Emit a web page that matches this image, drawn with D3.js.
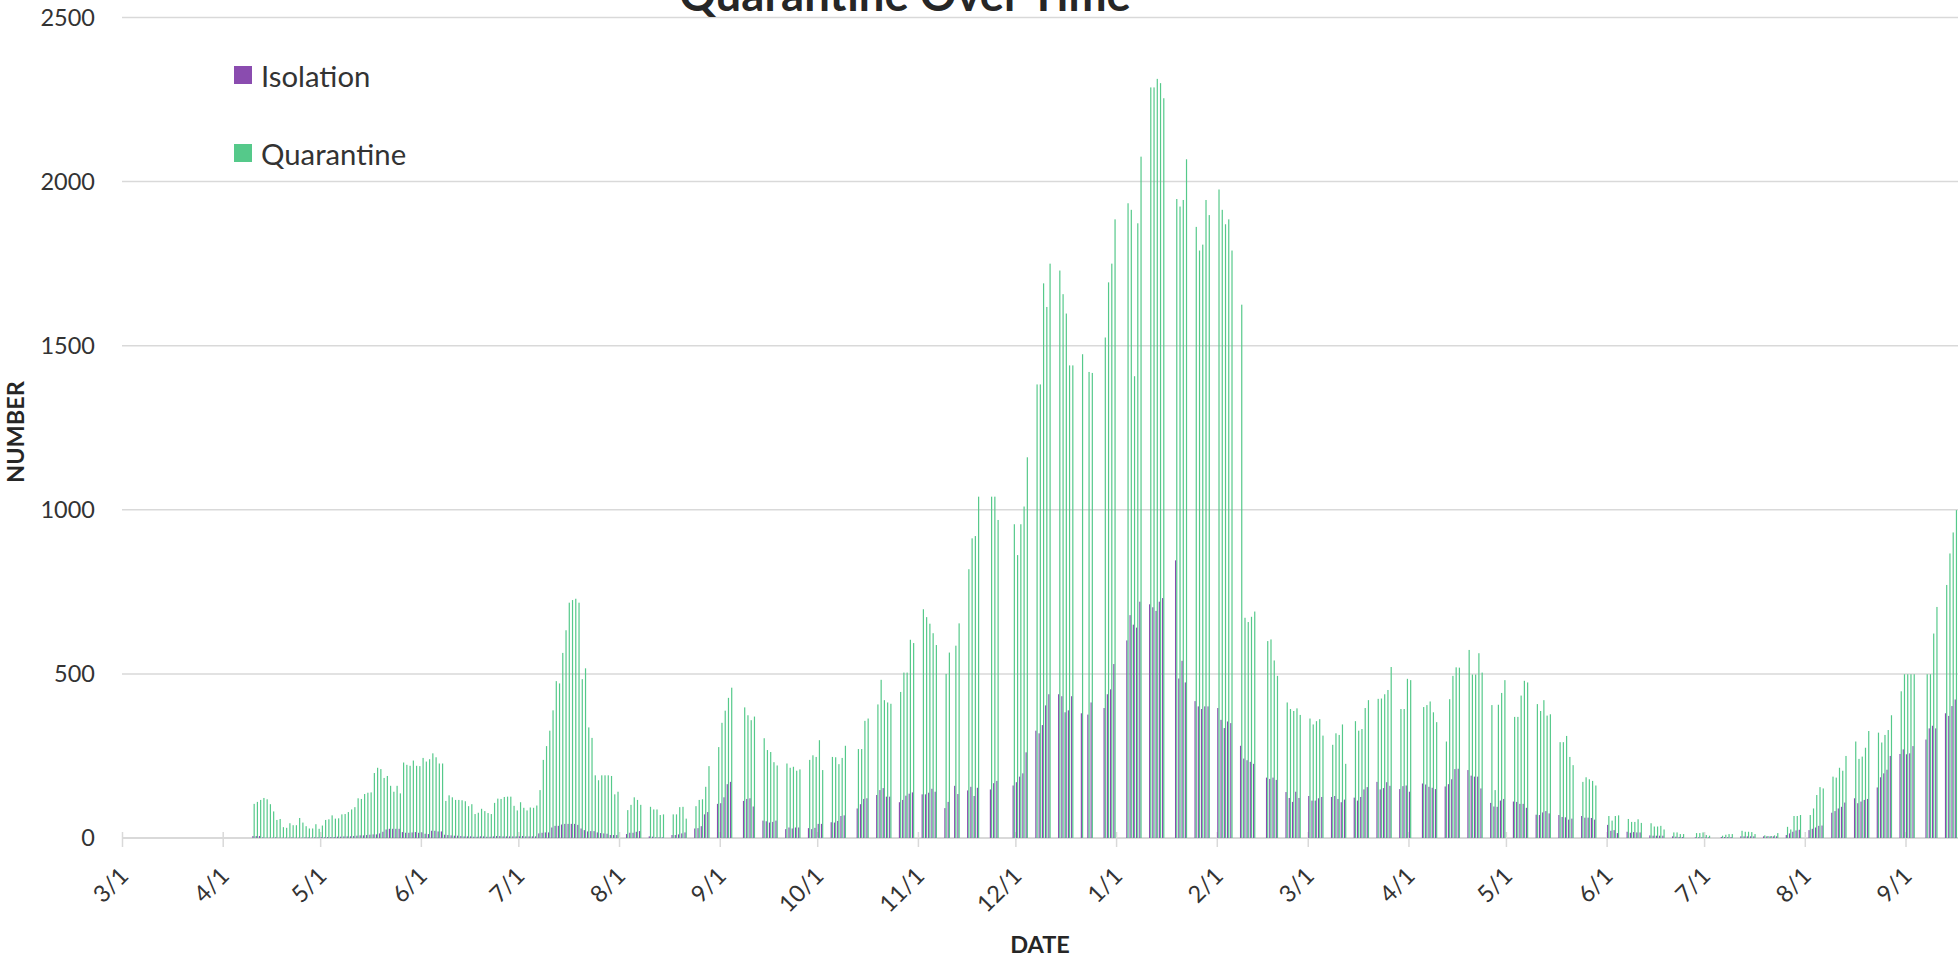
<!DOCTYPE html>
<html>
<head>
<meta charset="utf-8">
<script src="https://cdn.jsdelivr.net/npm/d3@7"></script>
<style>
  html, body { margin: 0; padding: 0; background: #fff; }
  svg { display: block; font-family: Lato, "Open Sans", sans-serif; }
</style>
</head>
<body>
<svg id="chart" width="1958" height="959"></svg>
<script>
/* daily reports, 10 Apr - 31 Jul 2020 (weekends included) */
const dailyStart = "2020-04-10";
const dailyIsolation = [
  6,6,6,2,1,1,1,2,1,1, 1,1,2,1,1,1,2,2,1,2, 2,3,2,3,3,3,4,4,5,5,
  5,6,7,8,8,9,10,11,11,14, 19,26,28,28,28,28,18,16,16,17, 18,16,17,13,12,22,22,20,20,10,
  9,8,7,7,6,5,5,5,4,4, 5,5,4,4,5,6,6,5,5,5, 5,5,5,6,5,5,5,5,14,16,
  17,17,32,37,37,41,43,43,43,43, 40,29,24,20,21,21,17,15,14,13, 9,9,9
];
const dailyQuarantine = [
  104,110,116,122,118,103,81,55,58,33, 31,45,39,39,61,47,36,29,29,42, 28,38,55,57,69,59,60,72,73,79,
  87,94,121,119,134,138,139,198,214,210, 183,189,159,141,159,136,230,223,220,236, 220,219,244,233,240,258,246,227,227,113,
  130,124,116,116,115,112,97,103,73,77, 89,82,76,73,107,120,119,125,126,126, 98,84,109,92,84,93,92,99,146,238,
  280,327,389,478,471,564,633,717,725,729, 717,484,517,337,305,191,176,191,191,191, 189,133,141
];

/* weekday reports from Mon 3 Aug 2020, one row per week (Mon..Fri), null = no report */
const weekStart = "2020-08-03";
const weeklyIsolation = [
  [12,16,16,19,21], [5,4,2,2,2], [9,9,11,14,17], [29,30,36,72,79], [104,106,124,164,171],
  [null,113,119,121,96], [53,51,47,49,53], [27,32,29,32,32], [30,27,31,43,43], [48,47,52,67,69],
  [null,90,103,119,121], [131,146,152,126,126], [109,116,129,135,139], [133,133,138,150,141], [91,110,null,159,134],
  [145,156,128,153,null], [148,167,174,null,null], [160,170,187,197,261], [327,319,344,404,438], [438,432,383,389,432],
  [380,null,376,413,null], [396,438,453,530,null],
  [602,679,650,641,720], [712,703,692,720,731], [null,846,486,540,474], [417,401,393,401,401], [396,360,335,355,350],
  [281,242,237,232,226], [null,184,180,184,177], [140,122,110,141,122], [128,114,114,121,125], [125,128,119,109,117],
  [123,114,125,148,155], [171,148,152,170,159], [149,158,160,141,null], [166,163,156,153,149], [157,164,179,210,211],
  [207,190,187,187,151], [107,96,95,114,119], [111,110,104,104,92], [71,70,78,82,75], [70,64,63,56,59],
  [67,62,62,61,56], [null,40,22,24,15], [19,16,18,17,17], [8,7,7,7,7], [5,4,3,3,null],
  [2,2,2,2,2], [null,3,3,3,3], [5,5,5,5,5], [5,5,5,5,5], [9,14,19,23,25],
  [24,28,32,37,38], [77,82,90,95,108], [121,106,111,116,119], [154,185,197,208,250], [256,270,255,258,280],
  [null,300,334,342,334], [380,372,402,422,null]
];
const weeklyQuarantine = [
  [85,101,124,116,101], [95,87,87,70,72], [72,72,94,95,59], [97,116,118,156,219], [277,351,388,427,458],
  [null,398,374,359,370], [304,268,262,231,221], [227,214,217,205,209], [238,252,247,298,207], [247,246,225,244,281],
  [null,271,271,357,364], [407,482,420,413,409], [445,504,504,604,594], [697,673,653,624,588], [500,565,null,586,654],
  [819,913,920,1040,null], [1040,1040,969,null,null], [956,862,956,1010,1160], [1382,1382,1690,1618,1750], [1729,1657,1598,1440,1440],
  [1474,null,1420,1417,null], [1525,1693,1750,1885,null],
  [1934,1914,1407,1873,2076], [2287,2287,2313,2300,2254], [null,1947,1924,1944,2068], [1862,1790,1808,1944,1898], [1976,1914,1870,1885,1790],
  [1625,671,658,674,690], [null,600,605,541,494], [413,393,387,395,375], [364,346,356,362,312], [284,319,314,346,226],
  [356,327,332,396,420], [424,425,438,451,521], [393,393,485,481,null], [399,405,416,383,353], [294,423,494,520,519],
  [573,498,498,563,504], [405,146,406,442,481], [369,369,434,479,474], [408,387,420,373,377], [292,292,311,247,222],
  [171,185,179,174,160], [null,67,53,67,69], [58,49,49,57,46], [45,35,35,37,26], [17,17,12,12,null],
  [15,15,17,9,7], [null,7,10,12,12], [22,19,19,18,12], [8,6,6,8,15], [34,26,67,67,70],
  [70,90,131,155,151], [187,184,214,205,250], [294,241,248,275,326], [321,291,314,329,374], [447,499,499,499,499],
  [null,499,499,623,704], [771,867,931,999,null]
];

const seriesNames = ["Isolation", "Quarantine"];
const seriesColors = ["#8a4caf", "#55c98a"];
const yTicks = [0, 500, 1000, 1500, 2000, 2500];

const parse = d3.utcParse("%Y-%m-%d");

// one row per reported day
const rows = [];
dailyQuarantine.forEach((q, i) => {
  rows.push({date: d3.utcDay.offset(parse(dailyStart), i), values: [dailyIsolation[i], q]});
});
weeklyQuarantine.forEach((week, w) => {
  week.forEach((q, k) => {
    if (q == null) return;
    rows.push({date: d3.utcDay.offset(parse(weekStart), w * 7 + k), values: [weeklyIsolation[w][k], q]});
  });
});

const svg = d3.select("#chart");
const W = 1958;

const x = d3.scaleUtc()
  .domain([parse("2020-03-01"), parse("2021-09-01")])
  .range([122, 1905.5]);
const y = d3.scaleLinear().domain([0, 2500]).range([838, 17.5]);

const dayWidth = x(parse("2020-03-02")) - x(parse("2020-03-01"));
const inner = d3.scaleBand().domain(seriesNames).range([0, dayWidth]).paddingInner(0).paddingOuter(0.36);

/* gridlines */
svg.append("g")
  .selectAll("line")
  .data(yTicks.slice(1))
  .join("line")
  .attr("x1", 122).attr("x2", W)
  .attr("y1", d => y(d)).attr("y2", d => y(d))
  .attr("stroke", "#d9d9d9").attr("stroke-width", 1.5);

/* y tick labels */
svg.append("g")
  .selectAll("text")
  .data(yTicks)
  .join("text")
  .attr("x", 95)
  .attr("y", d => y(d))
  .attr("dy", "0.35em")
  .attr("text-anchor", "end")
  .attr("font-size", "23.5px")
  .attr("fill", "#333")
  .text(d => d);

/* x axis */
const months = d3.utcMonth.range(parse("2020-03-01"), parse("2021-09-02"));
const xAxis = svg.append("g")
  .attr("transform", "translate(0,838)")
  .call(d3.axisBottom(x).tickValues(months).tickSize(9).tickFormat(d3.utcFormat("%-m/%-d")));
xAxis.select(".domain").remove();
xAxis.append("line")
  .attr("x1", 122).attr("x2", W)
  .attr("stroke", "#d9d9d9").attr("stroke-width", 2);
xAxis.selectAll(".tick line")
  .attr("y1", -6)
  .attr("stroke", "#d9d9d9").attr("stroke-width", 1.5);
xAxis.selectAll(".tick text")
  .attr("font-size", "23.5px")
  .attr("font-family", "Lato, sans-serif")
  .attr("fill", "#333")
  .attr("text-anchor", "end")
  .attr("dy", null)
  .attr("y", null)
  .attr("dominant-baseline", "central")
  .attr("transform", "translate(1,33) rotate(-45)");

/* bars */
const bars = svg.append("g");
seriesNames.forEach((name, s) => {
  bars.append("g")
    .attr("fill", seriesColors[s])
    .selectAll("rect")
    .data(rows.filter(r => r.values[s] != null))
    .join("rect")
    .attr("x", r => x(r.date) + inner(name))
    .attr("width", inner.bandwidth())
    .attr("y", r => y(r.values[s]))
    .attr("height", r => y(0) - y(r.values[s]));
});

/* title (the reference is cropped through it at the top edge) */
svg.append("text")
  .attr("x", 905).attr("y", 11)
  .attr("text-anchor", "middle")
  .attr("font-size", "45.5px")
  .attr("font-weight", "bold")
  .attr("fill", "#262626")
  .text("Quarantine Over Time");

/* axis titles */
svg.append("text")
  .attr("x", 1040).attr("y", 944)
  .attr("text-anchor", "middle")
  .attr("dominant-baseline", "central")
  .attr("font-size", "23.5px")
  .attr("font-weight", "bold")
  .attr("fill", "#262626")
  .text("DATE");
svg.append("text")
  .attr("transform", "translate(15,432) rotate(-90)")
  .attr("text-anchor", "middle")
  .attr("dominant-baseline", "central")
  .attr("font-size", "23.5px")
  .attr("font-weight", "bold")
  .attr("fill", "#262626")
  .text("NUMBER");

/* legend */
const legend = svg.append("g")
  .selectAll("g")
  .data(seriesNames)
  .join("g")
  .attr("transform", (d, i) => `translate(234,${75 + i * 78})`);
legend.append("rect")
  .attr("x", 0).attr("y", -9)
  .attr("width", 18).attr("height", 18)
  .attr("fill", (d, i) => seriesColors[i]);
legend.append("text")
  .attr("x", 27).attr("y", 0)
  .attr("dominant-baseline", "central")
  .attr("font-size", "29.3px")
  .attr("fill", "#333")
  .text(d => d);
</script>
</body>
</html>
